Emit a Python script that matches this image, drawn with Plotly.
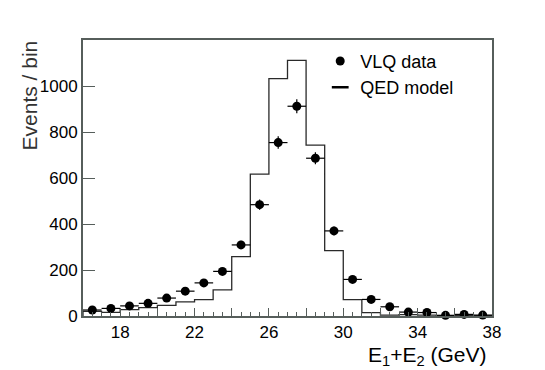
import plotly.graph_objects as go

# -- Data ----------------------------------------------------------------------
bin_lo      = [16, 17, 18, 19, 20, 21, 22, 23, 24, 25, 26,
               27, 28, 29, 30, 31, 32, 33, 34, 35, 36, 37]
bin_hi_last = 38
bin_centers = [16.5, 17.5, 18.5, 19.5, 20.5, 21.5, 22.5, 23.5, 24.5, 25.5, 26.5,
               27.5, 28.5, 29.5, 30.5, 31.5, 32.5, 33.5, 34.5, 35.5, 36.5, 37.5]
vlq_data    = [26, 33, 44, 55, 78, 108, 144, 194, 309, 484, 754,
               912, 686, 370, 159, 72, 40, 17, 15, 3, 7, 4]
vlq_err     = [5, 6, 7, 7, 9, 10, 12, 14, 18, 22, 27,
               30, 26, 19, 13, 8, 6, 4, 4, 2, 3, 2]
qed_model   = [20, 16, 28, 36, 46, 61, 71, 114, 258, 617, 1032,
               1111, 743, 284, 71, 15, 4, 6, 4, 2, 1, 1]

x_tickvals  = [16, 18, 20, 22, 24, 26, 28, 30, 32, 34, 36, 38]
x_ticktext  = ["", "18", "", "22", "", "26", "", "30", "", "34", "", "38"]
y_tickvals  = [0, 200, 400, 600, 800, 1000]

# -- Style ----------------------------------------------------------------------
_FONT  = "Liberation Sans, Arial, Helvetica, sans-serif"
_FRAME = "#565e5b"
_HIST  = "#2a2a2a"

# histogram outline: start on the axis at the first edge, drop back at the last
step_x = [bin_lo[0]] + bin_lo + [bin_hi_last, bin_hi_last]
step_y = [0] + qed_model + [qed_model[-1], 0]

fig = go.Figure()

fig.add_trace(go.Scatter(
    x=step_x, y=step_y,
    mode="lines", line=dict(shape="hv", color=_HIST, width=1.3),
    name="QED model", showlegend=False, hoverinfo="skip",
))

fig.add_trace(go.Scatter(
    x=bin_centers, y=vlq_data,
    mode="markers",
    marker=dict(symbol="circle", size=9, color="black"),
    error_x=dict(type="constant", value=0.5, color="black", thickness=1.2, width=0),
    error_y=dict(type="data", array=vlq_err, color="black", thickness=1.2, width=0),
    name="VLQ data", cliponaxis=False,
))

# legend-only entry: a short dash like the reference legend
fig.add_trace(go.Scatter(
    x=[None], y=[None], mode="markers",
    marker=dict(symbol="line-ew-open", size=12, color="black",
                line=dict(color="black", width=2.5)),
    name="QED model",
))

# page body adds an 8 px offset, so the figure is 8 px smaller and margins shifted
fig.update_layout(
    width=537, height=362,
    margin=dict(l=75, r=53, t=32, b=54),
    paper_bgcolor="white", plot_bgcolor="white",
    font=dict(family=_FONT, size=17, color="black"),
    showlegend=True,
    legend=dict(
        x=0.58, y=0.99, xanchor="left", yanchor="top",
        bgcolor="rgba(0,0,0,0)", font=dict(size=18),
        itemwidth=30, tracegroupgap=0,
    ),
    xaxis=dict(
        range=[16, 38],
        tickmode="array", tickvals=x_tickvals, ticktext=x_ticktext,
        ticks="inside", ticklen=8, tickwidth=1.2, tickcolor=_FRAME,
        minor=dict(dtick=0.5, ticks="inside", ticklen=4, tickwidth=1, tickcolor=_FRAME),
        showline=True, linecolor=_FRAME, linewidth=2, mirror=True,
        showgrid=False, zeroline=False,
        tickfont=dict(size=17),
    ),
    yaxis=dict(
        range=[0, 1200],
        tickmode="array", tickvals=y_tickvals,
        ticks="inside", ticklen=12, tickwidth=1.2, tickcolor=_FRAME,
        showline=True, linecolor=_FRAME, linewidth=2, mirror=True,
        showgrid=False, zeroline=False,
        tickfont=dict(size=17),
    ),
    annotations=[
        dict(text="Events / bin", xref="paper", yref="paper",
             x=-0.13, y=1.005, xanchor="center", yanchor="top",
             textangle=-90, showarrow=False,
             font=dict(size=21, color="#333333")),
        dict(text="E<sub>1</sub>+E<sub>2</sub> (GeV)", xref="paper", yref="paper",
             x=0.99, y=-0.09, xanchor="right", yanchor="top",
             showarrow=False, font=dict(size=21, color="black")),
    ],
)

fig.write_html("out.html")
